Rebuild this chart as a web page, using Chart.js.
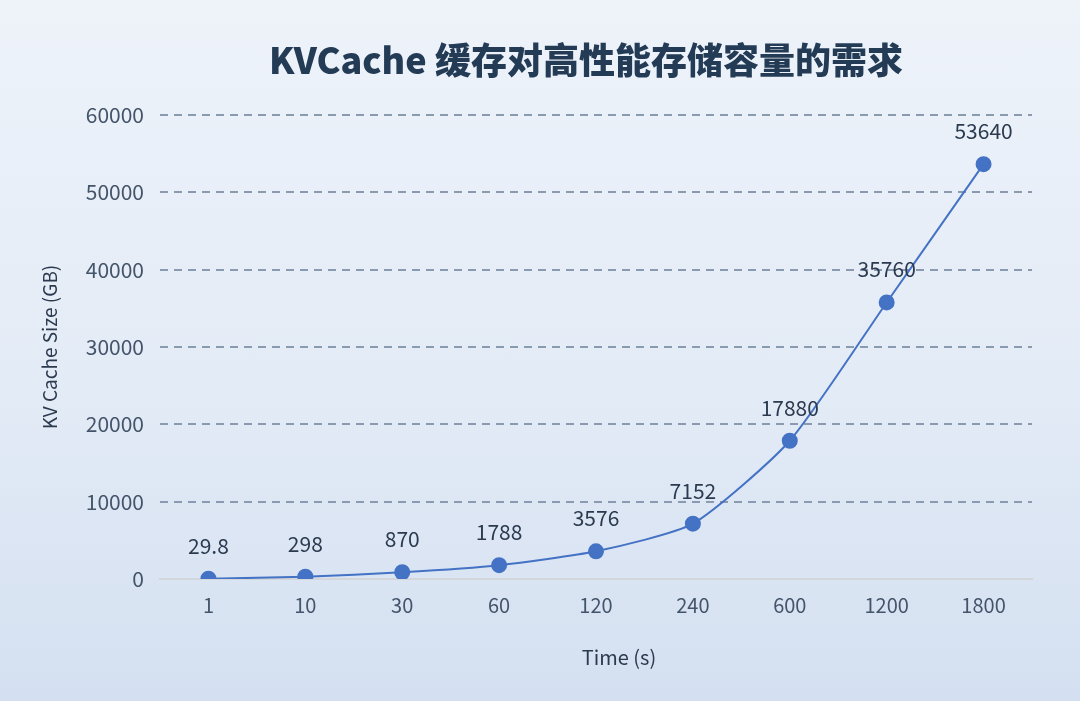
<!DOCTYPE html>
<html>
<head>
<meta charset="utf-8">
<script src="https://cdn.jsdelivr.net/npm/chart.js@4.4.1/dist/chart.umd.min.js"></script>
<style>
  html, body { margin: 0; padding: 0; }
  body {
    width: 1080px; height: 701px; overflow: hidden;
    background: linear-gradient(180deg, #eef3fa 0%, #e3ebf6 55%, #d4e0f1 100%);
  }
  #wrap { position: relative; width: 1080px; height: 701px; }
</style>
</head>
<body>
<div id="wrap"><canvas id="kvChart" width="1080" height="701"></canvas></div>
<script>
// datos
const tiempos = ['1', '10', '30', '60', '120', '240', '600', '1200', '1800'];
const kvCacheGB = [29.8, 298, 870, 1788, 3576, 7152, 17880, 35760, 53640];
const etiquetas = ['29.8', '298', '870', '1788', '3576', '7152', '17880', '35760', '53640'];

const tituloGrafica = 'KVCache 缓存对高性能存储容量的需求';
const tituloX = 'Time (s)';
const tituloY = 'KV Cache Size (GB)';

const colorLinea = '#4472c4';
const colorTexto = '#44546a';
const fuente = '"Noto Sans CJK SC", "Noto Sans", sans-serif';

// plugin sencillo para poner el valor encima de cada punto
const etiquetasPlugin = {
    id: 'etiquetasValores',
    afterDatasetsDraw(chart) {
        const ctx = chart.ctx;
        const meta = chart.getDatasetMeta(0);
        ctx.save();
        ctx.font = '21px ' + fuente;
        ctx.fillStyle = '#2b3a4f';
        ctx.textAlign = 'center';
        ctx.textBaseline = 'middle';
        meta.data.forEach((p, i) => {
            ctx.fillText(etiquetas[i], p.x, p.y - 33);
        });
        ctx.restore();
    }
};

// titulos dibujados a mano porque no estan centrados en el lienzo
const titulosPlugin = {
    id: 'titulos',
    afterDraw(chart) {
        const ctx = chart.ctx;
        const area = chart.chartArea;
        ctx.save();
        ctx.textAlign = 'center';
        ctx.textBaseline = 'middle';
        ctx.fillStyle = '#243b55';
        ctx.font = '900 36px ' + fuente;
        ctx.fillText(tituloGrafica, (area.left + area.right) / 2 - 10, 60);
        ctx.fillStyle = '#2b3a4f';
        ctx.font = '20px ' + fuente;
        ctx.fillText(tituloX, (area.left + area.right) / 2 + 23, area.bottom + 78);
        ctx.restore();
    }
};

const ctx = document.getElementById('kvChart').getContext('2d');
new Chart(ctx, {
    type: 'line',
    data: {
        labels: tiempos,
        datasets: [{
            label: tituloY,
            data: kvCacheGB,
            borderColor: colorLinea,
            backgroundColor: colorLinea,
            borderWidth: 2,
            pointRadius: 7,
            pointHoverRadius: 7,
            pointBackgroundColor: colorLinea,
            pointBorderColor: colorLinea,
            tension: 0.2
        }]
    },
    options: {
        responsive: false,
        animation: false,
        devicePixelRatio: 1,
        layout: { padding: { left: 38, right: 48, top: 115, bottom: 0 } },
        plugins: {
            legend: { display: false },
            tooltip: { enabled: false },
            title: { display: false }
        },
        scales: {
            x: {
                offset: true,
                grid: { display: false },
                border: { display: true, color: '#d3d6db', width: 2 },
                ticks: { color: colorTexto, font: { family: fuente, size: 20 }, padding: 6 },
                afterFit(scale) { scale.height = 122; }
            },
            y: {
                min: 0,
                max: 60000,
                ticks: {
                    stepSize: 10000,
                    color: colorTexto,
                    font: { family: fuente, size: 21 },
                    padding: 16,
                    callback: v => String(v)
                },
                grid: {
                    color: c => c.tick && c.tick.value === 0 ? 'rgba(0,0,0,0)' : '#8a9ab0',
                    lineWidth: 2,
                    drawTicks: false
                },
                border: { display: false, dash: [8, 6] },
                title: {
                    display: true, text: tituloY, color: '#2b3a4f',
                    font: { family: fuente, size: 19 },
                    padding: { top: 0, bottom: 8 }
                },
                afterFit(scale) { scale.width = 122; }
            }
        }
    },
    plugins: [etiquetasPlugin, titulosPlugin]
});
</script>
</body>
</html>
